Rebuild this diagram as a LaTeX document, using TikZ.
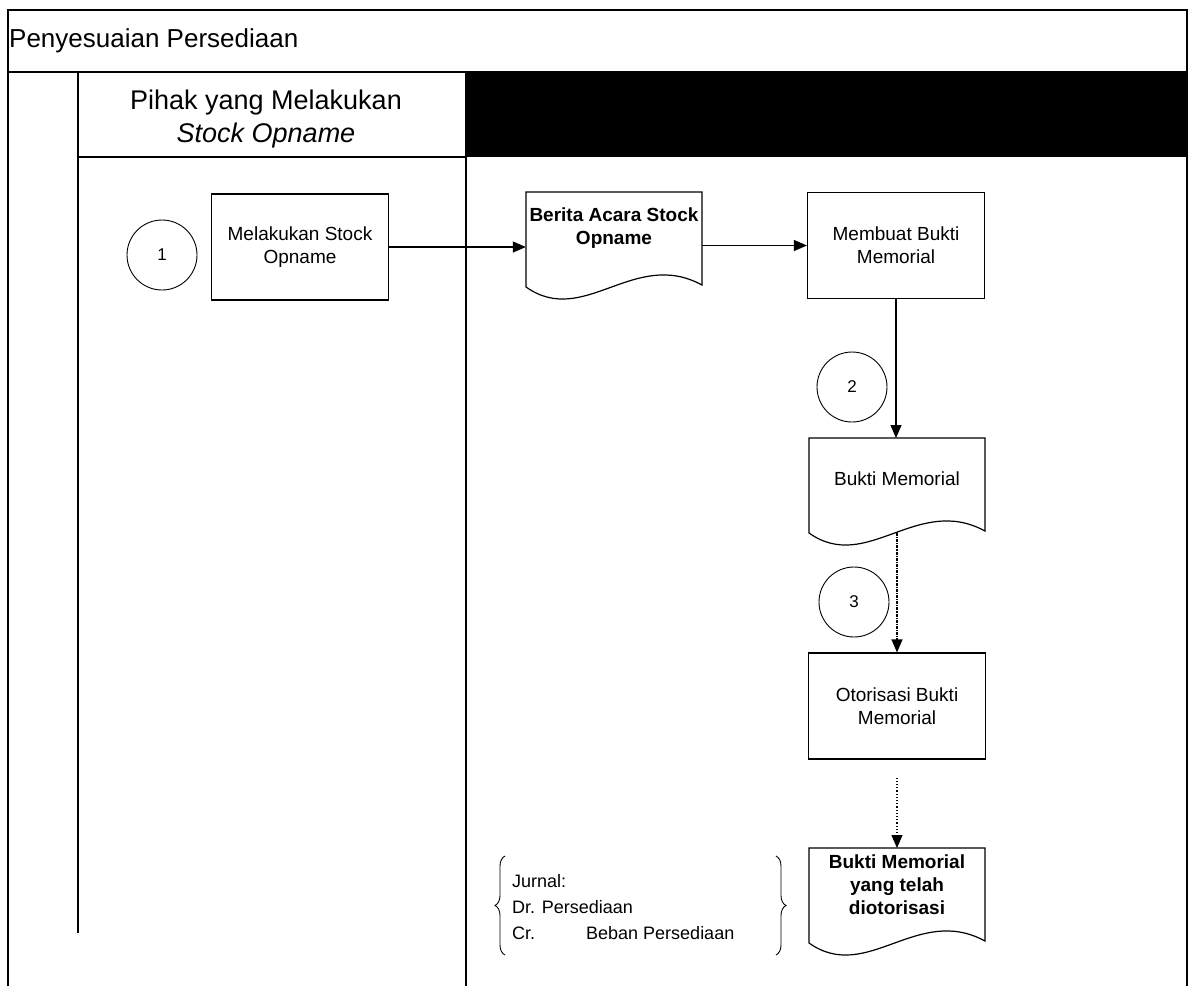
\documentclass[tikz,border=0pt]{standalone}
\usepackage{fontspec}
\setmainfont{Liberation Sans}
\usetikzlibrary{arrows.meta,calc,decorations.pathreplacing}

\newcommand\docshape[2]{%
  \draw[docline] ($(#1.center)+(-88,#2)$) -- ($(#1.center)+(88,#2)$)
    -- ($(#1.center)+(88,{#2+93})$)
    .. controls ($(#1.center)+(20,{#2+56})$) and ($(#1.center)+(-30,{#2+136})$)
    .. ($(#1.center)+(-88,{#2+95})$) -- cycle;
  \coordinate (#1-top) at ($(#1.center)+(0,#2)$);
  \coordinate (#1-bot) at ($(#1.center)+(0,{#2+95})$);
}

\begin{document}
\begin{tikzpicture}[x=1pt,y=-1pt,
  frame/.style={line width=1.2pt, black},
  docline/.style={line width=1.2pt, black},
  arr/.style={line width=1.2pt, -{Triangle[length=13pt,width=11pt]}},
  procbox/.style={draw, line width=1.2pt, minimum width=177pt, minimum height=106pt,
    inner sep=0pt, align=center, font=\fontsize{19}{23}\selectfont},
  doctext/.style={minimum width=176pt, inner sep=0pt, align=center,
    font=\fontsize{19}{23}\selectfont},
  circ/.style={draw, circle, line width=0.9pt, minimum size=70pt, inner sep=0pt,
    font=\fontsize{17}{20}\selectfont},
  brc/.style={decorate, decoration={brace, amplitude=10pt}, line width=0.9pt},
]
\fill[white] (0,0) rectangle (1194,986);
\useasboundingbox (0,0) rectangle (1194,986);

% frame and lanes
\fill[black] (466,72) rectangle (1187,157);
\draw[frame] (8,986) -- (8,10) -- (1187,10) -- (1187,986);
\draw[frame] (8,72) -- (1187,72);
\draw[frame] (78,72) -- (78,933);
\draw[frame] (466,72) -- (466,986);
\draw[frame] (78,157) -- (466,157);

\node[anchor=west, inner sep=0pt, font=\fontsize{26}{30}\selectfont] (title) at (9,41) {Penyesuaian Persediaan};
\node[align=center, inner sep=0pt, font=\fontsize{27}{33}\selectfont] (lane1) at (266,119)
  {Pihak yang Melakukan\\\itshape Stock Opname};

% nodes
\node[circ] (c1) at (162,255) {1};
\node[procbox] (mso) at (300,247) {Melakukan Stock\\Opname};
\node[doctext, font=\bfseries\fontsize{19}{23}\selectfont] (bac) at (614,228) {Berita Acara Stock\\Opname};
\docshape{bac}{-36}
\node[procbox] (mbm) at (896,245.5) {Membuat Bukti\\Memorial};
\node[circ] (c2) at (852,387) {2};
\node[doctext] (bm) at (897,479) {Bukti Memorial};
\docshape{bm}{-41}
\node[circ] (c3) at (854,602) {3};
\node[procbox] (oto) at (897,706) {Otorisasi Bukti\\Memorial};
\node[doctext, font=\bfseries\fontsize{19}{23}\selectfont] (fin) at (897,885) {Bukti Memorial\\yang telah\\diotorisasi};
\docshape{fin}{-37}

% journal note
\node[anchor=west, align=left, inner sep=0pt, font=\fontsize{18}{26}\selectfont] (jur) at (512,907)
  {Jurnal:\\Dr. Persediaan\\\makebox[74pt][l]{Cr.}Beban Persediaan};
\coordinate (bl1) at (505,955);
\coordinate (bl2) at (505,856);
\coordinate (br1) at (776,856);
\coordinate (br2) at (776,955);
\draw[brc] (bl1) -- (bl2);
\draw[brc] (br1) -- (br2);

% connectors
\draw[arr] (mso.east) -- (mso.east -| bac.west);
\draw[arr] (bac.east |- mbm.west) -- (mbm.west);
\draw[arr] (mbm.south) -- (mbm.south |- bm-top);
\draw[arr, densely dashdotted] (bm-bot) -- (bm-bot |- oto.north);
\draw[arr, dotted, shorten <=18pt] (oto.south) -- (oto.south |- fin-top);
\end{tikzpicture}
\end{document}
